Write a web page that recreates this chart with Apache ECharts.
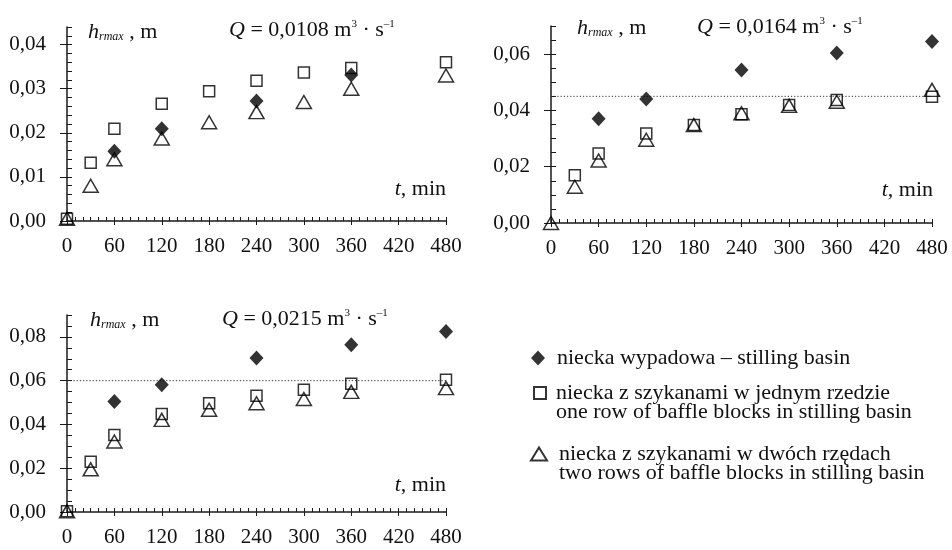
<!DOCTYPE html>
<html>
<head>
<meta charset="utf-8">
<script src="https://cdn.jsdelivr.net/npm/echarts@6/dist/echarts.min.js"></script>
<style>html,body{margin:0;padding:0;background:#fff}#c{width:952px;height:550px}</style>
</head>
<body>
<div id="c"></div>
<script>
// ---- data ----
const seriesNames = [
  'niecka wypadowa – stilling basin',
  'niecka z szykanami w jednym rzedzie\none row of baffle blocks in stilling basin',
  'niecka z szykanami w dwóch rzędach\ntwo rows of baffle blocks in stilling basin'
];
const flowLabels = ['0,0108', '0,0164', '0,0215'];
const xTicks = [0, 60, 120, 180, 240, 300, 360, 420, 480];
const yTicks1 = [0, 0.01, 0.02, 0.03, 0.04];
const yTicks2 = [0, 0.02, 0.04, 0.06];
const yTicks3 = [0, 0.02, 0.04, 0.06, 0.08];
const refLines = [null, 0.045, 0.06];

const basin1 = [[60,0.0158],[120,0.0209],[240,0.0272],[360,0.0331]];
const oneRow1 = [[0,0.0005],[30,0.0132],[60,0.0209],[120,0.0266],[180,0.0294],[240,0.0318],[300,0.0337],[360,0.0347],[480,0.0360]];
const twoRow1 = [[0,0.0005],[30,0.0080],[60,0.0140],[120,0.0187],[180,0.0224],[240,0.0247],[300,0.0270],[360,0.0300],[480,0.0330]];

const basin2 = [[60,0.0370],[120,0.0441],[240,0.0544],[360,0.0604],[480,0.0645]];
const oneRow2 = [[30,0.0170],[60,0.0247],[120,0.0318],[180,0.0348],[240,0.0386],[300,0.0419],[360,0.0437],[480,0.0449]];
const twoRow2 = [[0,0.0000],[30,0.0129],[60,0.0222],[120,0.0296],[180,0.0348],[240,0.0390],[300,0.0416],[360,0.0431],[480,0.0473]];

const basin3 = [[60,0.0505],[120,0.0581],[240,0.0703],[360,0.0764],[480,0.0825]];
const oneRow3 = [[0,0.0003],[30,0.0230],[60,0.0352],[120,0.0448],[180,0.0497],[240,0.0531],[300,0.0558],[360,0.0586],[480,0.0604]];
const twoRow3 = [[0,0.0003],[30,0.0195],[60,0.0322],[120,0.0421],[180,0.0467],[240,0.0497],[300,0.0516],[360,0.0549],[480,0.0566]];

// ---- layout / style ----
const FONT = 'Liberation Serif';
const panels = [
  {grid:{left:67, top:27, width:379, height:194}, yMax:0.044, yMajor:yTicks1, yMinor:0.002, data:[basin1, oneRow1, twoRow1]},
  {grid:{left:551, top:26, width:381, height:197}, yMax:0.07, yMajor:yTicks2, yMinor:0.005, data:[basin2, oneRow2, twoRow2]},
  {grid:{left:67, top:315, width:379, height:197}, yMax:0.09, yMajor:yTicks3, yMinor:0.005, data:[basin3, oneRow3, twoRow3]}
];
const lineCol = '#1a1a1a';
const fmtY = v => v.toFixed(2).replace('.', ',');

const grids = [], xAxes = [], yAxes = [], series = [];
panels.forEach((p, i) => {
  grids.push(Object.assign({containLabel:false}, p.grid));
  xAxes.push({type:'value', gridIndex:i, min:0, max:480, position:'bottom',
    axisLine:{show:true, lineStyle:{color:lineCol, width:1.5}},
    axisTick:{show:true, inside:false, length:4, customValues:xTicks, lineStyle:{color:lineCol, width:1}},
    axisLabel:{show:true, customValues:xTicks, margin:15, fontFamily:FONT, fontSize:21, color:'#111'},
    splitLine:{show:false}});
  xAxes.push({type:'value', gridIndex:i, min:0, max:480, interval:10, position:'bottom', offset:0,
    axisLine:{show:false}, axisLabel:{show:false}, splitLine:{show:false},
    axisTick:{show:true, inside:true, length:4, lineStyle:{color:lineCol, width:1}}});
  yAxes.push({type:'value', gridIndex:i, min:0, max:p.yMax, position:'left',
    axisLine:{show:true, lineStyle:{color:lineCol, width:1.5}},
    axisTick:{show:true, inside:false, length:7, customValues:p.yMajor, lineStyle:{color:lineCol, width:1}},
    axisLabel:{show:true, customValues:p.yMajor, margin:21, formatter:fmtY, fontFamily:FONT, fontSize:21, color:'#111'},
    splitLine:{show:false}});
  yAxes.push({type:'value', gridIndex:i, min:0, max:p.yMax, interval:p.yMinor, position:'left', offset:0,
    axisLine:{show:false}, axisLabel:{show:false}, splitLine:{show:false},
    axisTick:{show:true, inside:true, length:5, lineStyle:{color:lineCol, width:1}}});

  const common = {type:'scatter', xAxisIndex:2*i, yAxisIndex:2*i, clip:false, silent:true};
  if (refLines[i] !== null) {
    series.push({type:'line', name:'ref' + i, xAxisIndex:2*i, yAxisIndex:2*i, silent:true, z:1,
      symbol:'none', data:[[0, refLines[i]], [480, refLines[i]]],
      lineStyle:{color:'#333', width:1, type:[1.2, 2]}});
  }
  series.push(Object.assign({}, common, {name:seriesNames[1], data:p.data[1], symbol:'rect', symbolSize:11, z:2,
    itemStyle:{color:'rgba(255,255,255,0)', borderColor:'#000', borderWidth:1.5}}));
  series.push(Object.assign({}, common, {name:seriesNames[0], data:p.data[0], symbol:'diamond', symbolSize:[14,15], z:3,
    itemStyle:{color:'#000'}}));
  series.push(Object.assign({}, common, {name:seriesNames[2], data:p.data[2], symbol:'triangle', symbolSize:[15,13], z:4,
    itemStyle:{color:'rgba(255,255,255,0)', borderColor:'#000', borderWidth:1.5}}));
});

const base = {fontFamily:FONT, fontWeight:'normal', color:'#111'};
const rich = {
  i:Object.assign({fontStyle:'italic', fontSize:22}, base),
  sub:Object.assign({fontStyle:'italic', fontSize:12, verticalAlign:'bottom'}, base),
  n:Object.assign({fontSize:22}, base),
  sup:Object.assign({fontSize:11, verticalAlign:'top'}, base)
};
const hText = '{i|h}{sub|rmax}{n| , m}';
const qText = f => '{i|Q}{n| = ' + f + ' m}{sup|3}{n| · s}{sup|–1}';
const tText = '{i|t}{n|, min}';
const titles = [
  {left:88, top:21, text:hText},
  {left:229, top:19, text:qText(flowLabels[0])},
  {right:952-446, top:178, text:tText},
  {left:577, top:17, text:hText},
  {left:697, top:16, text:qText(flowLabels[1])},
  {right:952-933, top:179, text:tText},
  {left:90, top:309, text:hText},
  {left:222, top:308, text:qText(flowLabels[2])},
  {right:952-446, top:474, text:tText}
].map(t => Object.assign({padding:0, textStyle:{fontWeight:'normal', rich:rich}}, t));

const legTxt = {fontFamily:FONT, fontSize:22, lineHeight:19, color:'#111'};
const legends = [
  {left:531, top:347, itemWidth:14, itemHeight:15, data:[seriesNames[0]],
    textStyle:Object.assign({padding:[0,0,0,7]}, legTxt), formatter:n => n},
  {left:533, top:363, itemWidth:12, itemHeight:12, data:[seriesNames[1]],
    textStyle:Object.assign({padding:[0,0,0,5]}, legTxt), formatter:n => '\n' + n},
  {left:530, top:424, itemWidth:16, itemHeight:13, data:[seriesNames[2]],
    textStyle:Object.assign({padding:[0,0,0,7]}, legTxt), formatter:n => '\n' + n}
].map(l => Object.assign({orient:'vertical', padding:0, selectedMode:false, itemGap:0}, l));

const chart = echarts.init(document.getElementById('c'), null, {renderer:'canvas'});
chart.setOption({
  animation:false,
  backgroundColor:'#fff',
  title:titles,
  legend:legends,
  grid:grids,
  xAxis:xAxes,
  yAxis:yAxes,
  series:series
});
</script>
</body>
</html>
